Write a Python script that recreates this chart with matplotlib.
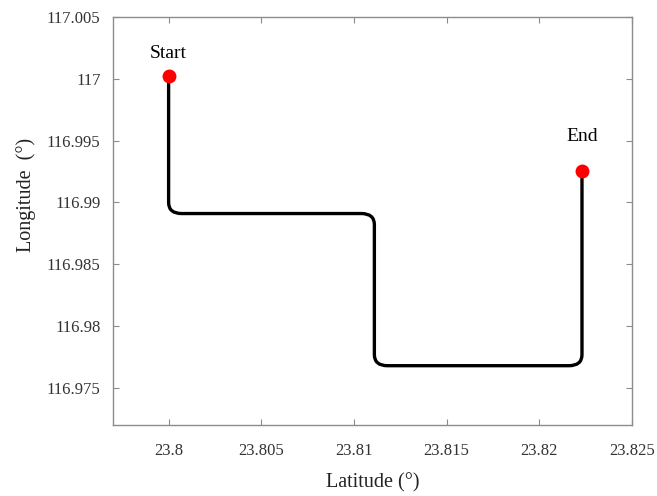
import matplotlib
matplotlib.use("Agg")
import matplotlib.pyplot as plt
from matplotlib.path import Path
from matplotlib.patches import PathPatch

# route waypoints (latitude, longitude), corners are rounded when drawn
route_lat = [23.8, 23.8, 23.8111, 23.8111, 23.8223, 23.8223]
route_lon = [117.0002, 116.9891, 116.9891, 116.9768, 116.9768, 116.9925]
start_pt = (23.8, 117.0002)
end_pt = (23.8223, 116.9925)

plt.rcParams['font.family'] = ['Liberation Serif', 'DejaVu Serif']

fig = plt.figure(figsize=(6.57, 4.96), dpi=100)
ax = fig.add_axes([0.172, 0.143, 0.79, 0.823])

# build a path with rounded corners (quadratic bezier at each corner)
rx, ry = 0.0007, 0.0009
verts = [(route_lat[0], route_lon[0])]
codes = [Path.MOVETO]
for i in range(1, len(route_lat) - 1):
    px, py = route_lat[i - 1], route_lon[i - 1]
    cx, cy = route_lat[i], route_lon[i]
    nx, ny = route_lat[i + 1], route_lon[i + 1]

    def step(ax_, ay_, bx_, by_):
        dx = (bx_ - ax_)
        dy = (by_ - ay_)
        sx = (rx if dx > 0 else -rx) if abs(dx) > 1e-12 else 0
        sy = (ry if dy > 0 else -ry) if abs(dy) > 1e-12 else 0
        return sx, sy

    sx1, sy1 = step(px, py, cx, cy)
    sx2, sy2 = step(cx, cy, nx, ny)
    verts.append((cx - sx1, cy - sy1)); codes.append(Path.LINETO)
    verts.append((cx, cy)); codes.append(Path.CURVE3)
    verts.append((cx + sx2, cy + sy2)); codes.append(Path.CURVE3)
verts.append((route_lat[-1], route_lon[-1])); codes.append(Path.LINETO)

ax.add_patch(PathPatch(Path(verts, codes), facecolor='none', edgecolor='black', lw=2.4,
                       capstyle='round', joinstyle='round'))

ax.plot(*start_pt, 'o', color='red', ms=9, zorder=3)
ax.plot(*end_pt, 'o', color='red', ms=9, zorder=3)
ax.text(start_pt[0], start_pt[1] + 0.0018, 'Start', ha='center', va='center', fontsize=14)
ax.text(end_pt[0], end_pt[1] + 0.0028, 'End', ha='center', va='center', fontsize=14)

ax.set_xlim(23.797, 23.825)
ax.set_ylim(116.972, 117.005)
ax.set_xticks([23.8, 23.805, 23.81, 23.815, 23.82, 23.825])
ax.set_xticklabels(['23.8', '23.805', '23.81', '23.815', '23.82', '23.825'])
ax.set_yticks([116.975, 116.98, 116.985, 116.99, 116.995, 117.0, 117.005])
ax.set_yticklabels(['116.975', '116.98', '116.985', '116.99', '116.995', '117', '117.005'])

for s in ax.spines.values():
    s.set_color('#8c8c8c')
    s.set_linewidth(1.0)
ax.tick_params(axis='both', direction='in', top=True, right=True, length=4, color='#8c8c8c',
               labelsize=12, labelcolor='#333333')
ax.tick_params(axis='x', pad=13)
ax.tick_params(axis='y', pad=9)

ax.set_xlabel('Latitude (°)', fontsize=14.5, color='#222222', labelpad=10)
ax.set_ylabel('Longitude  (°)', fontsize=14.5, color='#222222')
ax.yaxis.set_label_coords(-0.148, 0.564)

fig.savefig('out.png', dpi=100)
